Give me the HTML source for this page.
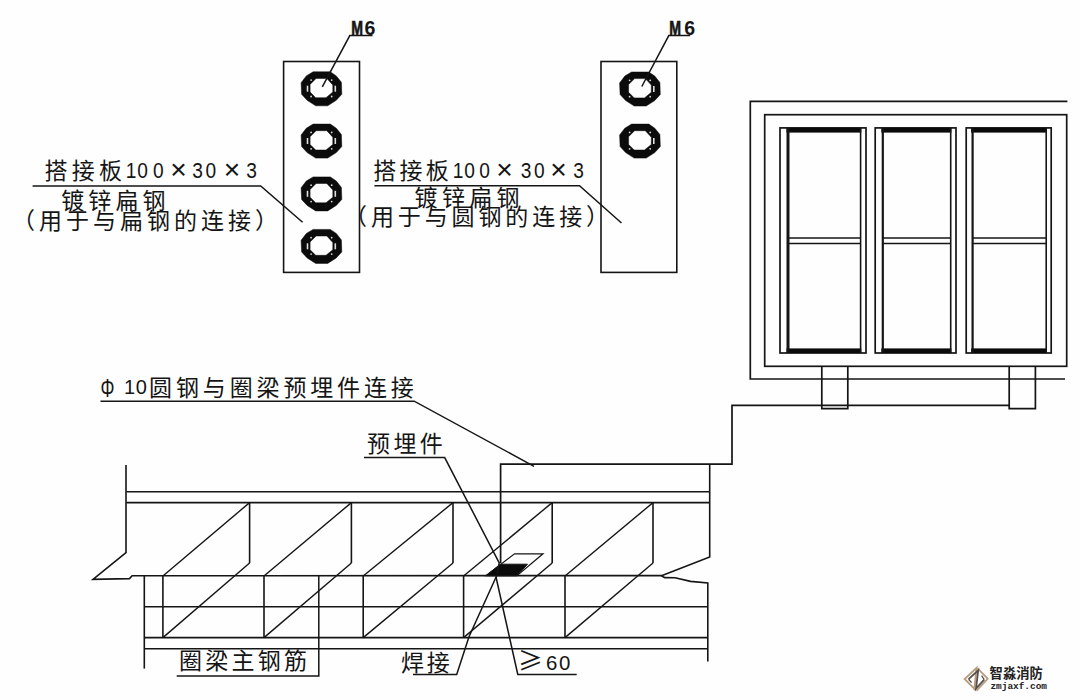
<!DOCTYPE html>
<html lang="zh"><head><meta charset="utf-8"><title>接地连接示意图</title>
<style>
html,body{margin:0;padding:0;background:#fefefe;}
body{width:1080px;height:700px;overflow:hidden;}
svg{display:block;}
text{white-space:pre;}
</style></head><body>
<svg width="1080" height="700" viewBox="0 0 1080 700">
<rect x="0" y="0" width="1080" height="700" fill="#fefefe"/>
<rect x="283.6" y="61.5" width="75.9" height="210.9" fill="none" stroke="#151515" stroke-width="1.6"/>
<path d="M313.1 71.8 L330.3 71.8 L336.3 75.9 L341.4 82.3 L341.8 94.3 L336.3 100.3 L327.7 105.8 L315.7 105.8 L307.1 100.3 L301.6 94.3 L301.1 82.7 L306.3 75.9 Z M316.1 78.4 L326.8 78.4 L332.8 84.9 L332.8 92.1 L326.0 97.7 L315.7 97.7 L310.1 92.1 L310.1 84.4 Z" fill="#0b0b0b" fill-rule="evenodd" stroke="#0b0b0b" stroke-width="0.5" stroke-linejoin="round"/>
<line x1="307.5" y1="85.7" x2="307.5" y2="91.7" stroke="#dedede" stroke-width="1.6"/>
<line x1="335.3" y1="85.7" x2="335.3" y2="91.7" stroke="#dedede" stroke-width="1.6"/>
<circle cx="311.1" cy="80.1" r="0.9" fill="#d8d8d8"/>
<circle cx="331.7" cy="80.1" r="0.9" fill="#d8d8d8"/>
<circle cx="311.1" cy="96.5" r="0.9" fill="#d8d8d8"/>
<circle cx="331.7" cy="96.5" r="0.9" fill="#d8d8d8"/>
<path d="M313.1 124.1 L330.3 124.1 L336.3 128.2 L341.4 134.6 L341.8 146.6 L336.3 152.6 L327.7 158.1 L315.7 158.1 L307.1 152.6 L301.6 146.6 L301.1 135.0 L306.3 128.2 Z M316.1 130.7 L326.8 130.7 L332.8 137.2 L332.8 144.4 L326.0 150.0 L315.7 150.0 L310.1 144.4 L310.1 136.7 Z" fill="#0b0b0b" fill-rule="evenodd" stroke="#0b0b0b" stroke-width="0.5" stroke-linejoin="round"/>
<line x1="307.5" y1="138" x2="307.5" y2="144" stroke="#dedede" stroke-width="1.6"/>
<line x1="335.3" y1="138" x2="335.3" y2="144" stroke="#dedede" stroke-width="1.6"/>
<circle cx="311.1" cy="132.4" r="0.9" fill="#d8d8d8"/>
<circle cx="331.7" cy="132.4" r="0.9" fill="#d8d8d8"/>
<circle cx="311.1" cy="148.8" r="0.9" fill="#d8d8d8"/>
<circle cx="331.7" cy="148.8" r="0.9" fill="#d8d8d8"/>
<path d="M313.1 176.9 L330.3 176.9 L336.3 181.0 L341.4 187.4 L341.8 199.4 L336.3 205.4 L327.7 210.9 L315.7 210.9 L307.1 205.4 L301.6 199.4 L301.1 187.8 L306.3 181.0 Z M316.1 183.5 L326.8 183.5 L332.8 190.0 L332.8 197.2 L326.0 202.8 L315.7 202.8 L310.1 197.2 L310.1 189.5 Z" fill="#0b0b0b" fill-rule="evenodd" stroke="#0b0b0b" stroke-width="0.5" stroke-linejoin="round"/>
<line x1="307.5" y1="190.8" x2="307.5" y2="196.8" stroke="#dedede" stroke-width="1.6"/>
<line x1="335.3" y1="190.8" x2="335.3" y2="196.8" stroke="#dedede" stroke-width="1.6"/>
<circle cx="311.1" cy="185.2" r="0.9" fill="#d8d8d8"/>
<circle cx="331.7" cy="185.2" r="0.9" fill="#d8d8d8"/>
<circle cx="311.1" cy="201.6" r="0.9" fill="#d8d8d8"/>
<circle cx="331.7" cy="201.6" r="0.9" fill="#d8d8d8"/>
<path d="M313.1 229.4 L330.3 229.4 L336.3 233.5 L341.4 239.9 L341.8 251.9 L336.3 257.9 L327.7 263.4 L315.7 263.4 L307.1 257.9 L301.6 251.9 L301.1 240.3 L306.3 233.5 Z M316.1 236.0 L326.8 236.0 L332.8 242.5 L332.8 249.7 L326.0 255.3 L315.7 255.3 L310.1 249.7 L310.1 242.0 Z" fill="#0b0b0b" fill-rule="evenodd" stroke="#0b0b0b" stroke-width="0.5" stroke-linejoin="round"/>
<line x1="307.5" y1="243.3" x2="307.5" y2="249.3" stroke="#dedede" stroke-width="1.6"/>
<line x1="335.3" y1="243.3" x2="335.3" y2="249.3" stroke="#dedede" stroke-width="1.6"/>
<circle cx="311.1" cy="237.7" r="0.9" fill="#d8d8d8"/>
<circle cx="331.7" cy="237.7" r="0.9" fill="#d8d8d8"/>
<circle cx="311.1" cy="254.1" r="0.9" fill="#d8d8d8"/>
<circle cx="331.7" cy="254.1" r="0.9" fill="#d8d8d8"/>
<polyline points="372.5,35.6 349.8,35.6 322.3,86.8" fill="none" stroke="#151515" stroke-width="1.5"/>
<g><text transform="translate(351.37,35) scale(0.674,1)" font-size="20.95" font-weight="700" font-family='"Liberation Sans",sans-serif' fill="#151515" stroke="#151515" stroke-width="0.7">M</text><text transform="translate(364.52,35) scale(0.935,1)" font-size="20.95" font-weight="700" font-family='"Liberation Sans",sans-serif' fill="#151515">6</text></g>
<rect x="601" y="61.5" width="75.8" height="210.9" fill="none" stroke="#151515" stroke-width="1.6"/>
<path d="M631.6 72.0 L648.8 72.0 L654.8 76.1 L659.9 82.5 L660.3 94.5 L654.8 100.5 L646.2 106.0 L634.2 106.0 L625.6 100.5 L620.1 94.5 L619.6 82.9 L624.8 76.1 Z M634.6 78.6 L645.3 78.6 L651.3 85.1 L651.3 92.3 L644.5 97.9 L634.2 97.9 L628.6 92.3 L628.6 84.6 Z" fill="#0b0b0b" fill-rule="evenodd" stroke="#0b0b0b" stroke-width="0.5" stroke-linejoin="round"/>
<line x1="653.8" y1="85.9" x2="653.8" y2="91.9" stroke="#dedede" stroke-width="1.6"/>
<circle cx="629.6" cy="80.3" r="0.9" fill="#d8d8d8"/>
<circle cx="650.2" cy="80.3" r="0.9" fill="#d8d8d8"/>
<circle cx="629.6" cy="96.7" r="0.9" fill="#d8d8d8"/>
<circle cx="650.2" cy="96.7" r="0.9" fill="#d8d8d8"/>
<path d="M631.6 124.1 L648.8 124.1 L654.8 128.2 L659.9 134.6 L660.3 146.6 L654.8 152.6 L646.2 158.1 L634.2 158.1 L625.6 152.6 L620.1 146.6 L619.6 135.0 L624.8 128.2 Z M634.6 130.7 L645.3 130.7 L651.3 137.2 L651.3 144.4 L644.5 150.0 L634.2 150.0 L628.6 144.4 L628.6 136.7 Z" fill="#0b0b0b" fill-rule="evenodd" stroke="#0b0b0b" stroke-width="0.5" stroke-linejoin="round"/>
<line x1="653.8" y1="138" x2="653.8" y2="144" stroke="#dedede" stroke-width="1.6"/>
<circle cx="629.6" cy="132.4" r="0.9" fill="#d8d8d8"/>
<circle cx="650.2" cy="132.4" r="0.9" fill="#d8d8d8"/>
<circle cx="629.6" cy="148.8" r="0.9" fill="#d8d8d8"/>
<circle cx="650.2" cy="148.8" r="0.9" fill="#d8d8d8"/>
<polyline points="690.2,35.6 668.8,35.6 641.8,86.5" fill="none" stroke="#151515" stroke-width="1.5"/>
<g><text transform="translate(669.37,35) scale(0.674,1)" font-size="20.95" font-weight="700" font-family='"Liberation Sans",sans-serif' fill="#151515" stroke="#151515" stroke-width="0.7">M</text><text transform="translate(684.22,35) scale(0.935,1)" font-size="20.95" font-weight="700" font-family='"Liberation Sans",sans-serif' fill="#151515">6</text></g>
<g><text x="44.5" y="178.6" font-size="23" font-weight="400" font-family='"Liberation Sans","Noto Sans CJK SC",sans-serif' fill="#151515" letter-spacing="4.2">搭接板</text><text transform="translate(0,178) scale(0.873,1)" x="144.0 157.13 175.12" y="0" font-size="21.93" font-weight="400" font-family='"Liberation Sans",sans-serif' fill="#151515">100</text><text x="178.6" y="179.21" text-anchor="middle" font-size="28.26" font-weight="400" font-family='"Liberation Sans",sans-serif' fill="#151515">×</text><text transform="translate(0,178) scale(0.873,1)" x="220.18 235.37" y="0" font-size="21.93" font-weight="400" font-family='"Liberation Sans",sans-serif' fill="#151515">30</text><text x="231.9" y="179.21" text-anchor="middle" font-size="28.26" font-weight="400" font-family='"Liberation Sans",sans-serif' fill="#151515">×</text><text transform="translate(0,178) scale(0.873,1)" x="282.03" y="0" font-size="21.93" font-weight="400" font-family='"Liberation Sans",sans-serif' fill="#151515">3</text></g>
<polyline points="32.6,186 260.7,186 302.6,222.3" fill="none" stroke="#151515" stroke-width="1.5"/>
<text x="61.2" y="208.6" font-size="23" font-weight="400" font-family='"Liberation Sans","Noto Sans CJK SC",sans-serif' fill="#151515" letter-spacing="4.1">镀锌扁钢</text>
<text x="12.0" y="229.2" font-size="23" font-weight="400" font-family='"Liberation Sans","Noto Sans CJK SC",sans-serif' fill="#151515" letter-spacing="4">（用于与扁钢的连接）</text>
<g><text x="373.3" y="178.6" font-size="23" font-weight="400" font-family='"Liberation Sans","Noto Sans CJK SC",sans-serif' fill="#151515" letter-spacing="3.2">搭接板</text><text transform="translate(0,178) scale(0.873,1)" x="518.57 531.93 548.89" y="0" font-size="21.93" font-weight="400" font-family='"Liberation Sans",sans-serif' fill="#151515">100</text><text x="504.5" y="179.21" text-anchor="middle" font-size="28.26" font-weight="400" font-family='"Liberation Sans",sans-serif' fill="#151515">×</text><text transform="translate(0,178) scale(0.873,1)" x="596.47 611.66" y="0" font-size="21.93" font-weight="400" font-family='"Liberation Sans",sans-serif' fill="#151515">30</text><text x="558.6" y="179.21" text-anchor="middle" font-size="28.26" font-weight="400" font-family='"Liberation Sans",sans-serif' fill="#151515">×</text><text transform="translate(0,178) scale(0.873,1)" x="656.6" y="0" font-size="21.93" font-weight="400" font-family='"Liberation Sans",sans-serif' fill="#151515">3</text></g>
<polyline points="374.4,185.8 579.5,185.8 621.5,223" fill="none" stroke="#151515" stroke-width="1.5"/>
<text x="414.6" y="205.8" font-size="23" font-weight="400" font-family='"Liberation Sans","Noto Sans CJK SC",sans-serif' fill="#151515" letter-spacing="4.3">镀锌扁钢</text>
<text x="344.1" y="225" font-size="23" font-weight="400" font-family='"Liberation Sans","Noto Sans CJK SC",sans-serif' fill="#151515" letter-spacing="3.88">（用于与圆钢的连接）</text>
<polyline points="1067.4,101.4 750.3,101.4 750.3,379 1065,379" fill="none" stroke="#151515" stroke-width="1.7"/>
<rect x="764.7" y="114.7" width="302.0" height="251.6" fill="none" stroke="#151515" stroke-width="1.7"/>
<rect x="780" y="127.9" width="86" height="225.1" fill="none" stroke="#151515" stroke-width="1.7"/>
<rect x="786.5" y="128" width="74.8" height="4.6" fill="#0b0b0b"/>
<rect x="786.5" y="348.4" width="74.8" height="4.6" fill="#0b0b0b"/>
<line x1="788" y1="128" x2="788" y2="353" stroke="#151515" stroke-width="3"/>
<line x1="860.6" y1="128" x2="860.6" y2="353" stroke="#151515" stroke-width="1.6"/>
<line x1="788" y1="238" x2="860.6" y2="238" stroke="#151515" stroke-width="1.6"/>
<line x1="788" y1="243.5" x2="860.6" y2="243.5" stroke="#151515" stroke-width="1.6"/>
<rect x="875.2" y="127.9" width="80.8" height="225.1" fill="none" stroke="#151515" stroke-width="1.7"/>
<rect x="881.3" y="128" width="70.1" height="4.6" fill="#0b0b0b"/>
<rect x="881.3" y="348.4" width="70.1" height="4.6" fill="#0b0b0b"/>
<line x1="882.8" y1="128" x2="882.8" y2="353" stroke="#151515" stroke-width="2.2"/>
<line x1="950.7" y1="128" x2="950.7" y2="353" stroke="#151515" stroke-width="1.6"/>
<line x1="882.8" y1="238" x2="950.7" y2="238" stroke="#151515" stroke-width="1.6"/>
<line x1="882.8" y1="243.5" x2="950.7" y2="243.5" stroke="#151515" stroke-width="1.6"/>
<rect x="966.2" y="127.9" width="85.0" height="225.1" fill="none" stroke="#151515" stroke-width="1.7"/>
<rect x="971.1" y="128" width="75.8" height="4.6" fill="#0b0b0b"/>
<rect x="971.1" y="348.4" width="75.8" height="4.6" fill="#0b0b0b"/>
<line x1="972.6" y1="128" x2="972.6" y2="353" stroke="#151515" stroke-width="2.2"/>
<line x1="1046.2" y1="128" x2="1046.2" y2="353" stroke="#151515" stroke-width="1.6"/>
<line x1="972.6" y1="238" x2="1046.2" y2="238" stroke="#151515" stroke-width="1.6"/>
<line x1="972.6" y1="243.5" x2="1046.2" y2="243.5" stroke="#151515" stroke-width="1.6"/>
<polyline points="821.8,366.3 821.8,408.6 847.8,408.6 847.8,366.3" fill="none" stroke="#151515" stroke-width="1.7"/>
<polyline points="1009.2,366.3 1009.2,408.6 1035.4,408.6 1035.4,366.3" fill="none" stroke="#151515" stroke-width="1.7"/>
<polyline points="1009.2,405.3 732,405.3 732,464.2 500.6,464.2 500.6,563" fill="none" stroke="#151515" stroke-width="1.7"/>
<polyline points="126,465 126,552.5 93,579.3 129.5,578.6 132.1,575.8 662,575.6" fill="none" stroke="#151515" stroke-width="1.6"/>
<line x1="126.4" y1="491.7" x2="709.7" y2="491.7" stroke="#151515" stroke-width="1.6"/>
<line x1="126.4" y1="502.6" x2="709.7" y2="502.6" stroke="#151515" stroke-width="1.6"/>
<polyline points="709.7,464.2 709.7,557 661.5,575.7" fill="none" stroke="#151515" stroke-width="1.6"/>
<polyline points="661.5,575.7 664.7,577.6 675,577.8 690.5,581.4 707.8,583 707.8,661.4" fill="none" stroke="#151515" stroke-width="1.6"/>
<line x1="144.3" y1="576" x2="144.3" y2="668.6" stroke="#151515" stroke-width="1.6"/>
<line x1="144.3" y1="606.8" x2="707.8" y2="606.8" stroke="#151515" stroke-width="1.6"/>
<line x1="144.3" y1="637.6" x2="707.8" y2="637.6" stroke="#151515" stroke-width="1.6"/>
<line x1="144.3" y1="648.8" x2="707.8" y2="648.8" stroke="#151515" stroke-width="1.6"/>
<line x1="249.6" y1="502.6" x2="249.6" y2="563" stroke="#151515" stroke-width="1.6"/>
<line x1="162.9" y1="576" x2="162.9" y2="637.6" stroke="#151515" stroke-width="1.6"/>
<line x1="249.6" y1="502.6" x2="162.9" y2="576" stroke="#151515" stroke-width="1.4"/>
<line x1="249.6" y1="563" x2="162.9" y2="637.6" stroke="#151515" stroke-width="1.4"/>
<line x1="351.4" y1="502.6" x2="351.4" y2="563" stroke="#151515" stroke-width="1.6"/>
<line x1="264" y1="576" x2="264" y2="637.6" stroke="#151515" stroke-width="1.6"/>
<line x1="351.4" y1="502.6" x2="264" y2="576" stroke="#151515" stroke-width="1.4"/>
<line x1="351.4" y1="563" x2="264" y2="637.6" stroke="#151515" stroke-width="1.4"/>
<line x1="453" y1="502.6" x2="453" y2="563" stroke="#151515" stroke-width="1.6"/>
<line x1="363.2" y1="576" x2="363.2" y2="637.6" stroke="#151515" stroke-width="1.6"/>
<line x1="453" y1="502.6" x2="363.2" y2="576" stroke="#151515" stroke-width="1.4"/>
<line x1="453" y1="563" x2="363.2" y2="637.6" stroke="#151515" stroke-width="1.4"/>
<line x1="552.2" y1="502.6" x2="552.2" y2="563" stroke="#151515" stroke-width="1.6"/>
<line x1="463.6" y1="576" x2="463.6" y2="637.6" stroke="#151515" stroke-width="1.6"/>
<line x1="552.2" y1="502.6" x2="463.6" y2="576" stroke="#151515" stroke-width="1.4"/>
<line x1="552.2" y1="563" x2="463.6" y2="637.6" stroke="#151515" stroke-width="1.4"/>
<line x1="653" y1="502.6" x2="653" y2="563" stroke="#151515" stroke-width="1.6"/>
<line x1="565" y1="576" x2="565" y2="637.6" stroke="#151515" stroke-width="1.6"/>
<line x1="653" y1="502.6" x2="565" y2="576" stroke="#151515" stroke-width="1.4"/>
<line x1="653" y1="563" x2="565" y2="637.6" stroke="#151515" stroke-width="1.4"/>
<polygon points="514.6,553.8 543,553.8 517,575.6 486,575.6" fill="none" stroke="#151515" stroke-width="1.2"/>
<polygon points="500.5,564.2 527.5,564.2 517,575.6 486,575.6" fill="#0b0b0b" stroke="#151515" stroke-width="1"/>
<g><text transform="translate(100.4,397.2) scale(0.66,1)" font-size="26.5" font-weight="400" font-family='"Liberation Sans",sans-serif' fill="#151515">Φ</text><text transform="translate(0,394.4) scale(0.955,1)" x="129.76 142.24" y="0" font-size="20.95" font-weight="400" font-family='"Liberation Sans",sans-serif' fill="#151515">10</text><text x="149.1" y="396.2" font-size="23" font-weight="400" font-family='"Liberation Sans","Noto Sans CJK SC",sans-serif' fill="#151515" letter-spacing="3.86">圆钢与圈梁预埋件连接</text></g>
<polyline points="100.5,401.2 414.2,401.2 534,466.3" fill="none" stroke="#151515" stroke-width="1.5"/>
<text x="367.0" y="452.4" font-size="23" font-weight="400" font-family='"Liberation Sans","Noto Sans CJK SC",sans-serif' fill="#151515" letter-spacing="3.4">预埋件</text>
<polyline points="364,457.6 444.7,457.6 499.2,562.8 497,574" fill="none" stroke="#151515" stroke-width="1.5"/>
<text x="401.0" y="671" font-size="23" font-weight="400" font-family='"Liberation Sans","Noto Sans CJK SC",sans-serif' fill="#151515" letter-spacing="2.8">焊接</text>
<polyline points="413,674.6 456.7,674.6 469,636.7 497,575" fill="none" stroke="#151515" stroke-width="1.5"/>
<g><text x="517.7" y="670.4" font-size="25" font-weight="400" font-family='"Noto Sans CJK SC",sans-serif' fill="#151515">≥</text><text transform="translate(0,670) scale(1.052,1)" x="518.94 531.48" y="0" font-size="19.41" font-weight="400" font-family='"Liberation Sans",sans-serif' fill="#151515">60</text></g>
<polyline points="576.7,674.4 517.8,674.4 505.6,620 496,577" fill="none" stroke="#151515" stroke-width="1.5"/>
<text x="179.1" y="669.4" font-size="23" font-weight="400" font-family='"Liberation Sans","Noto Sans CJK SC",sans-serif' fill="#151515" letter-spacing="3.2">圈梁主钢筋</text>
<polyline points="176.7,676 318.8,676 318.8,576" fill="none" stroke="#151515" stroke-width="1.5"/>
<g fill="none" stroke-linejoin="miter">
<polyline points="976.2,690.6 964.6,679 976.6,667.8 974.2,690" stroke="#b89d7e" stroke-width="1.8"/>
<polyline points="977.4,668.2 987.8,678.8 976.6,690.6" stroke="#b89d7e" stroke-width="1.7"/>
<polyline points="968.6,679.2 978.2,670.4 976,688.6 984.2,679.6" stroke="#57504b" stroke-width="1.8"/>
<polyline points="971.6,682.6 968.6,679.2" stroke="#57504b" stroke-width="1.3"/>
<polyline points="981.6,675.6 984.2,679.6" stroke="#57504b" stroke-width="1.3"/>
</g>
<text x="989.6" y="677.6" font-size="13.3" font-weight="700" font-family='"Liberation Sans","Noto Sans CJK SC",sans-serif' fill="#222">智淼消防</text>
<text x="990.4" y="689.4" font-size="9.45" font-weight="700" font-family='"Liberation Mono",monospace' fill="#222">zmjaxf.com</text>
</svg>
</body></html>
